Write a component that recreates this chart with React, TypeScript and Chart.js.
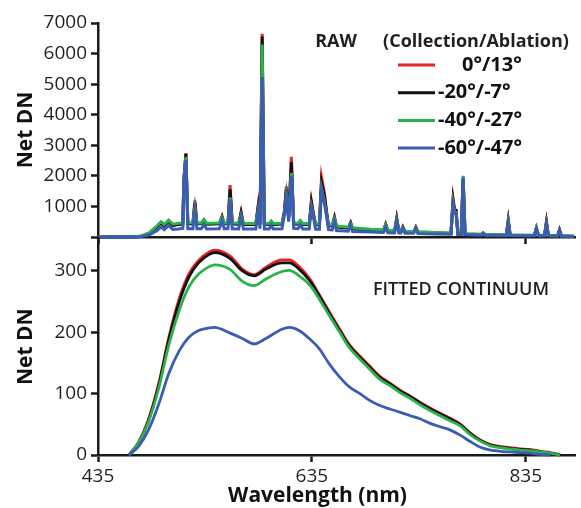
import React, { useEffect, useRef } from 'react';
import { Chart, registerables } from 'chart.js';

Chart.register(...registerables);

// ---------- data ----------
const seriesLabels = ['0°/13°', '-20°/-7°', '-40°/-27°', '-60°/-47°'];
const seriesColors = ['#ec2227', '#111111', '#2bb24b', '#3b5cb4'];
const rawTitle = 'RAW';
const legendTitle = '(Collection/Ablation)';
const fitTitle = 'FITTED CONTINUUM';
const yTitle = 'Net DN';
const xTitle = 'Wavelength (nm)';

const xTicks = [435, 635, 835];
const rawYTicks = [0, 1000, 2000, 3000, 4000, 5000, 6000, 7000];
const fitYTicks = [0, 100, 200, 300];

const rawWavelength = [
  435, 465, 475, 483, 490, 494, 497, 501, 505, 510,
  514.3, 515.3, 517.2, 519, 523.7, 525.6, 527.5, 531.5, 534.1, 536.5,
  548.5, 551, 553, 556.5, 558.5, 560.5, 566.5, 568.8, 571, 582.5,
  584.8, 586.5, 588.5, 590.5, 595, 597, 599, 607, 609.2, 611.1,
  613.3, 615.8, 618, 622, 624.2, 626.5, 632.5, 634.5, 636.4, 638.5,
  642, 644, 646.7, 648.6, 650.5, 654, 656.1, 658, 669, 671.2,
  673, 690, 702, 704, 706, 712.3, 714.3, 716.3, 718.2, 720,
  722, 730.2, 732.2, 734.2, 750, 765, 767, 768.4, 769.8, 771.5,
  774.6, 776.4, 778.2, 793.5, 795.2, 797, 816.8, 818.6, 820.4, 843,
  844.9, 846.8, 852.5, 854.3, 856.1, 864.7, 866.5, 868.3, 880,
];
const rawRed = [
  0, 0, 20, 120, 330, 470, 380, 520, 390, 420,
  440, 1900, 2740, 450, 440, 1200, 440, 440, 550, 430,
  440, 680, 440, 440, 1700, 440, 430, 820, 420, 420,
  1050, 440, 6650, 430, 420, 500, 420, 430, 820, 1660,
  650, 2620, 440, 430, 520, 420, 420, 1170, 770, 410,
  410, 1950, 1440, 850, 390, 370, 650, 340, 300, 470,
  280, 240, 220, 420, 210, 200, 620, 190, 190, 330,
  180, 170, 320, 160, 140, 120, 1250, 900, 880, 110,
  110, 1900, 100, 80, 130, 70, 60, 560, 60, 50,
  290, 50, 50, 500, 40, 30, 240, 30, 20,
];
const rawBlack = [
  0, 0, 20, 110, 320, 460, 370, 510, 380, 410,
  430, 1880, 2720, 440, 430, 1110, 430, 430, 540, 420,
  430, 660, 430, 430, 1560, 430, 420, 790, 410, 410,
  980, 430, 6560, 420, 410, 490, 410, 420, 800, 1560,
  630, 2450, 430, 420, 510, 410, 410, 1130, 750, 400,
  400, 1780, 1340, 820, 380, 360, 630, 330, 290, 460,
  270, 230, 210, 410, 200, 190, 600, 180, 180, 320,
  170, 160, 310, 150, 130, 110, 1200, 880, 870, 100,
  100, 1900, 90, 80, 130, 70, 60, 540, 60, 50,
  280, 50, 50, 480, 40, 30, 230, 30, 20,
];
const rawGreen = [
  0, 0, 30, 140, 360, 500, 410, 550, 420, 450,
  460, 1850, 2620, 470, 460, 960, 460, 460, 570, 450,
  460, 640, 460, 460, 1300, 460, 450, 720, 440, 440,
  880, 460, 6300, 450, 440, 520, 440, 450, 760, 1380,
  600, 2100, 460, 450, 540, 440, 440, 1000, 700, 430,
  430, 1580, 1150, 750, 410, 390, 600, 360, 320, 440,
  300, 250, 230, 400, 220, 210, 560, 200, 200, 310,
  190, 180, 300, 170, 150, 130, 1100, 820, 800, 120,
  120, 2000, 110, 90, 140, 80, 70, 500, 70, 60,
  300, 60, 60, 450, 50, 40, 220, 40, 30,
];
const rawBlue = [
  0, 0, 10, 70, 200, 330, 240, 380, 250, 260,
  280, 1750, 2520, 270, 270, 890, 270, 270, 400, 260,
  270, 540, 270, 270, 1220, 270, 260, 650, 260, 260,
  840, 270, 5230, 260, 260, 380, 260, 270, 700, 1300,
  500, 2000, 280, 270, 390, 260, 260, 950, 650, 250,
  250, 1530, 1100, 700, 240, 230, 500, 210, 190, 380,
  180, 160, 150, 320, 140, 130, 520, 130, 130, 290,
  120, 120, 280, 110, 100, 90, 1050, 770, 760, 80,
  80, 1950, 80, 60, 120, 60, 50, 450, 50, 40,
  280, 40, 40, 430, 40, 30, 210, 30, 20,
];

const fitWavelength = [
  464, 473, 482, 492, 501, 511, 520, 529, 539, 544,
  558, 570, 581, 592, 607, 614, 623, 633, 642, 651,
  661, 670, 680, 689, 698, 708, 717, 727, 736, 745,
  755, 764, 774, 783, 792, 802, 811, 820, 830, 839,
  849, 858, 867,
];
const fitRed = [
  0, 21, 57, 118, 190, 255, 295, 317, 331, 334,
  325, 303, 294, 306, 318, 318, 307, 287, 261, 234,
  205, 180, 161, 145, 129, 117, 106, 96, 86, 77,
  68, 60, 50, 36, 25, 17, 14, 12, 10, 9,
  6, 4, 1,
];
const fitBlack = [
  0, 20, 55, 115, 186, 250, 290, 313, 327, 330,
  321, 300, 292, 303, 313, 313, 303, 284, 259, 232,
  203, 178, 159, 143, 127, 116, 105, 95, 85, 76,
  67, 59, 49, 35, 24, 16, 13, 11, 9, 8,
  5, 3, 0,
];
const fitGreen = [
  0, 20, 53, 110, 178, 236, 274, 295, 307, 310,
  303, 283, 276, 287, 299, 301, 292, 277, 254, 228,
  200, 175, 156, 140, 124, 113, 102, 92, 82, 73,
  64, 56, 47, 33, 23, 15, 12, 10, 8, 7,
  5, 3, 0,
];
const fitBlue = [
  0, 14, 40, 84, 132, 170, 192, 203, 207, 208,
  199, 190, 181, 190, 205, 208, 203, 189, 173, 149,
  127, 111, 100, 89, 81, 75, 70, 64, 59, 52,
  46, 41, 32, 22, 13, 8, 6, 5, 4, 3,
  1, 0, null,
];

// ---------- styling ----------
const FONT = "'Open Sans', 'DejaVu Sans', sans-serif";
const TEXT = '#231f20';
const AXIS = '#1a1a1a';

function pts(xs: number[], ys: (number | null)[]) {
  return xs.map((x, i) => ({ x, y: ys[i] }));
}

function makeDatasets(xs: number[], series: (number | null)[][], width: number, smooth: boolean) {
  return series.map((ys, i) => ({
    label: seriesLabels[i],
    data: pts(xs, ys),
    borderColor: seriesColors[i],
    backgroundColor: seriesColors[i],
    borderWidth: width,
    pointRadius: 0,
    fill: false,
    tension: smooth ? 0.4 : 0,
    cubicInterpolationMode: smooth ? 'monotone' : 'default',
    order: series.length - i,
    clip: false,
  }));
}

const gridCfg = {
  drawOnChartArea: false,
  drawTicks: true,
  tickLength: 7,
  tickWidth: 2.5,
  tickColor: AXIS,
};
const borderCfg = { display: true, color: AXIS, width: 2.5 };
const yTitleCfg = {
  display: true,
  text: yTitle,
  color: '#111',
  font: { family: FONT, size: 21, weight: 'bold' },
  padding: { top: 13, bottom: 0 },
};

const rawAnnotations = {
  id: 'rawAnnotations',
  afterDraw(chart: any) {
    const ctx = chart.ctx;
    ctx.save();
    ctx.textBaseline = 'middle';
    ctx.fillStyle = TEXT;
    ctx.font = `bold 18px ${FONT}`;
    ctx.textAlign = 'center';
    ctx.fillText(rawTitle, 336, 42);
    ctx.fillText(legendTitle, 476, 42);
    seriesLabels.forEach((lab, i) => {
      const y = 65 + i * 27.7;
      ctx.strokeStyle = seriesColors[i];
      ctx.lineWidth = 3;
      ctx.beginPath();
      ctx.moveTo(398, y);
      ctx.lineTo(435, y);
      ctx.stroke();
      ctx.font = `bold 20px ${FONT}`;
      ctx.textAlign = 'left';
      ctx.fillStyle = '#111';
      ctx.fillText(lab, i === 0 ? 462 : 438, y);
    });
    ctx.restore();
  },
};

const fitAnnotations = {
  id: 'fitAnnotations',
  afterDraw(chart: any) {
    const ctx = chart.ctx;
    const a = chart.chartArea;
    ctx.save();
    ctx.textBaseline = 'middle';
    ctx.textAlign = 'center';
    ctx.fillStyle = TEXT;
    ctx.font = `600 18px ${FONT}`;
    ctx.fillText(fitTitle, 461, a.top + 51);
    ctx.fillStyle = '#111';
    ctx.font = `bold 21px ${FONT}`;
    ctx.fillText(xTitle, (a.left + a.right) / 2 - 19, a.bottom + 41);
    ctx.restore();
  },
};

export default function App() {
  const topRef = useRef<HTMLCanvasElement>(null);
  const botRef = useRef<HTMLCanvasElement>(null);

  useEffect(() => {
    Chart.defaults.font.family = FONT;
    const top = new Chart(topRef.current as HTMLCanvasElement, {
      type: 'line',
      data: {
        datasets: makeDatasets(rawWavelength, [rawRed, rawBlack, rawGreen, rawBlue], 3, false) as any,
      },
      options: {
        responsive: false,
        animation: false,
        layout: { padding: { left: 0, right: 6, top: 23, bottom: 0 } },
        plugins: { legend: { display: false }, tooltip: { enabled: false } },
        scales: {
          x: {
            type: 'linear',
            min: 435,
            max: 881,
            afterBuildTicks: (s: any) => { s.ticks = xTicks.map((v) => ({ value: v })); },
            afterFit: (s: any) => { s.height = 20; },
            ticks: { callback: () => '', padding: 0 },
            grid: gridCfg,
            border: borderCfg,
          },
          y: {
            type: 'linear',
            min: 0,
            max: 7000,
            afterBuildTicks: (s: any) => { s.ticks = rawYTicks.map((v) => ({ value: v })); },
            afterFit: (s: any) => { s.width = 98; },
            ticks: {
              callback: (v: any) => (v === 0 ? '' : String(v)),
              color: TEXT,
              font: { family: FONT, size: 19 },
              padding: 4,
            },
            grid: gridCfg,
            border: borderCfg,
            title: yTitleCfg,
          },
        },
      } as any,
      plugins: [rawAnnotations],
    });

    const bot = new Chart(botRef.current as HTMLCanvasElement, {
      type: 'line',
      data: {
        datasets: makeDatasets(fitWavelength, [fitRed, fitBlack, fitGreen, fitBlue], 2.8, true) as any,
      },
      options: {
        responsive: false,
        animation: false,
        layout: { padding: { left: 0, right: 6, top: 14, bottom: 0 } },
        plugins: { legend: { display: false }, tooltip: { enabled: false } },
        scales: {
          x: {
            type: 'linear',
            min: 435,
            max: 881,
            afterBuildTicks: (s: any) => { s.ticks = xTicks.map((v) => ({ value: v })); },
            afterFit: (s: any) => { s.height = 53; },
            ticks: {
              callback: (v: any) => String(v),
              color: TEXT,
              font: { family: FONT, size: 19 },
              padding: 3,
              maxRotation: 0,
            },
            grid: gridCfg,
            border: borderCfg,
          },
          y: {
            type: 'linear',
            min: 0,
            max: 353,
            afterBuildTicks: (s: any) => { s.ticks = fitYTicks.map((v) => ({ value: v })); },
            afterFit: (s: any) => { s.width = 98; },
            ticks: {
              callback: (v: any) => String(v),
              color: TEXT,
              font: { family: FONT, size: 19 },
              padding: 4,
            },
            grid: gridCfg,
            border: borderCfg,
            title: yTitleCfg,
          },
        },
      } as any,
      plugins: [fitAnnotations],
    });

    return () => {
      top.destroy();
      bot.destroy();
    };
  }, []);

  return (
    <div style={{ position: 'fixed', left: 0, top: 0, width: 581, height: 508, background: '#fff' }}>
      <canvas
        ref={topRef}
        width={581}
        height={257}
        style={{ position: 'absolute', left: 0, top: 0, width: 581, height: 257, display: 'block' }}
      />
      <canvas
        ref={botRef}
        width={581}
        height={285}
        style={{ position: 'absolute', left: 0, top: 223, width: 581, height: 285, display: 'block' }}
      />
    </div>
  );
}
